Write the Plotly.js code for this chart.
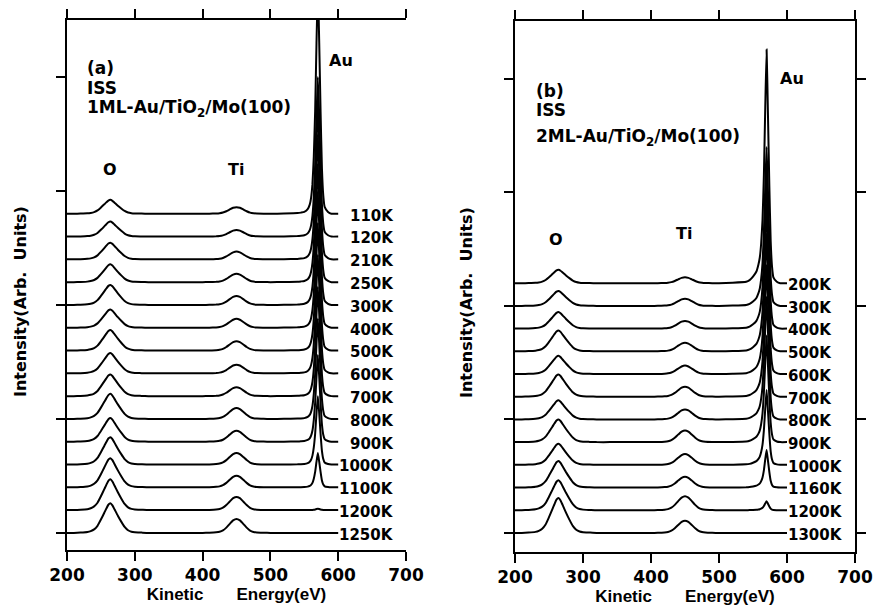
<!DOCTYPE html>
<html>
<head>
<meta charset="utf-8">
<script src="https://cdn.plot.ly/plotly-3.0.1.min.js"></script>
<style>html,body{margin:0;padding:0;background:#fff;}</style>
</head>
<body>
<div id="chart" style="width:875px;height:609px;"></div>
<script>
// Kinetic energy grid (eV) on which the peak profiles were read
const energy = [200,210,220,230,235,240,245,250,255,258,
  261,264,267,270,275,280,285,290,295,300,
  310,320,340,360,380,400,410,420,425,430,
  435,440,445,450,455,460,465,470,475,480,
  490,500,520,540,545,550,555,558,560,562,
  564,566,568,570,572,574,576,578,580,585,
  590,600];
// normalized peak shapes
const profO = [0,0,0.01,0.03,0.06,0.12,0.24,0.45,0.68,0.82,
  0.95,1.0,0.93,0.8,0.58,0.38,0.2,0.09,0.04,0.02,
  0.01,0,0,0,0,0,0,0,0,0,
  0,0,0,0,0,0,0,0,0,0,
  0,0,0,0,0,0,0,0,0,0,
  0,0,0,0,0,0,0,0,0,0,
  0,0];
const profTi = [0,0,0,0,0,0,0,0,0,0,
  0,0,0,0,0,0,0,0,0,0,
  0,0,0,0,0,0,0.01,0.04,0.08,0.18,
  0.38,0.65,0.9,1.0,0.9,0.65,0.38,0.17,0.07,0.03,
  0.01,0,0,0,0,0,0,0,0,0,
  0,0,0,0,0,0,0,0,0,0,
  0,0];
const profAuA = [0,0,0,0,0,0,0,0,0,0,
  0,0,0,0,0,0,0,0,0,0,
  0,0,0,0,0,0,0,0,0,0,
  0,0,0,0,0,0,0,0,0,0,
  0,0,0.001,0.003,0.005,0.008,0.02,0.04,0.07,0.13,
  0.25,0.45,0.75,1.0,0.75,0.45,0.2,0.08,0.03,0.008,
  0,0];
const profAuB = [0,0,0,0,0,0,0,0,0,0,
  0,0,0,0,0,0,0,0,0,0,
  0,0,0,0,0,0,0,0,0,0,
  0,0,0,0,0,0,0,0,0,0,
  0,0,0.002,0.006,0.013,0.028,0.05,0.08,0.11,0.17,
  0.27,0.46,0.75,1.0,0.72,0.42,0.18,0.07,0.025,0.006,
  0,0];

// Panel (a): 1ML-Au/TiO2/Mo(100), top to bottom
const tempsA = ['110K','120K','210K','250K','300K','400K','500K','600K','700K','800K','900K','1000K','1100K','1200K','1250K'];
const oA  = [0.61,0.66,0.73,0.78,0.88,0.80,0.90,0.89,0.95,1.10,1.04,1.20,1.28,1.35,1.30];
const tiA = [0.29,0.29,0.34,0.37,0.39,0.39,0.41,0.38,0.39,0.48,0.48,0.51,0.51,0.58,0.61];
const auA = [10,7.0,6.8,6.5,6.2,6.0,5.6,5.2,4.8,4.4,3.8,3.0,1.5,0.06,0];

// Panel (b): 2ML-Au/TiO2/Mo(100), top to bottom
const tempsB = ['200K','300K','400K','500K','600K','700K','800K','900K','1000K','1160K','1200K','1300K'];
const oB  = [0.59,0.66,0.73,0.92,0.80,0.98,0.84,1.00,0.93,1.17,1.32,1.54];
const tiB = [0.26,0.32,0.34,0.38,0.37,0.44,0.44,0.51,0.48,0.47,0.62,0.54];
const auB = [10.3,7.0,6.8,6.5,6.2,5.8,5.4,4.7,3.3,1.65,0.4,0];

const xTicks = [200,300,400,500,600,700];
const yTicks = [0,5,10,15,20];
const xTitle = 'Kinetic\u00a0\u00a0\u00a0\u00a0\u00a0\u00a0\u00a0Energy(eV)';
const yTitle = 'Intensity(Arb.\u00a0 Units)';

const W = 875, H = 609;
const px = v => v / W;
const py = v => 1 - v / H;

const traces = [];
function addPanel(temps, o, ti, au, profAu, xa, ya) {
  const n = temps.length;
  temps.forEach((t, i) => {
    const off = n - 1 - i;
    const y = energy.map((e, k) => off + o[i] * profO[k] + ti[i] * profTi[k] + au[i] * profAu[k]);
    traces.push({x: energy, y: y, type: 'scatter', mode: 'lines', name: t,
      xaxis: xa, yaxis: ya, showlegend: false, hoverinfo: 'skip',
      line: {color: '#000', width: 2, shape: 'spline', smoothing: 0.4}});
  });
}
addPanel(tempsA, oA, tiA, auA, profAuA, 'x', 'y');
addPanel(tempsB, oB, tiB, auB, profAuB, 'x2', 'y2');

const bold = (size, fam) => ({family: fam || 'DejaVu Sans', size: size, color: '#000', weight: 'bold'});

const annotations = [];
tempsA.forEach((t, i) => {
  annotations.push({xref: 'x', yref: 'y', x: 685, y: tempsA.length - 1 - i - 0.08, text: t,
    xanchor: 'right', yanchor: 'middle', showarrow: false, font: bold(15)});
});
tempsB.forEach((t, i) => {
  annotations.push({xref: 'x2', yref: 'y2', x: 600, y: tempsB.length - 1 - i - 0.08, text: t,
    xanchor: 'left', yanchor: 'middle', showarrow: false, font: bold(15), borderpad: 0});
});
const txt = (text, x, y, size, xanchor, fam) => annotations.push({xref: 'paper', yref: 'paper',
  x: px(x), y: py(y), text: text, xanchor: xanchor || 'left', yanchor: 'middle', showarrow: false,
  borderpad: 0, font: bold(size, fam)});
txt('(a)', 86, 68, 17);
txt('ISS', 86, 87.5, 17);
txt('1ML-Au/TiO<sub>2</sub>/Mo(100)', 86, 108, 17);
txt('(b)', 535, 91, 17);
txt('ISS', 535, 110, 17);
txt('2ML-Au/TiO<sub>2</sub>/Mo(100)', 535, 137, 17);
txt('O', 110, 169, 16, 'center');
txt('Ti', 236, 169, 16, 'center');
txt('Au', 341, 61, 16, 'center');
txt('O', 556, 240, 16, 'center');
txt('Ti', 684, 233, 16, 'center');
txt('Au', 792, 79, 16, 'center');
annotations.push({xref: 'paper', yref: 'paper', x: px(20), y: py(302), text: yTitle,
  textangle: -90, xanchor: 'center', yanchor: 'middle', showarrow: false, font: bold(16)});
annotations.push({xref: 'paper', yref: 'paper', x: px(467), y: py(303), text: yTitle,
  textangle: -90, xanchor: 'center', yanchor: 'middle', showarrow: false, font: bold(16)});

const xBase = {range: [200, 700], tickvals: xTicks, ticks: 'outside', ticklen: 9, tickwidth: 2,
  showline: true, linewidth: 2, linecolor: '#000', tickcolor: '#000', mirror: 'ticks',
  showgrid: false, zeroline: false, tickfont: bold(17), fixedrange: true,
  title: {text: xTitle, font: bold(17, 'Liberation Sans'), standoff: 4}};
const yBase = {tickvals: yTicks, ticks: 'outside', ticklen: 9, tickwidth: 2, showticklabels: false,
  showline: true, linewidth: 2, linecolor: '#000', tickcolor: '#000',
  showgrid: false, zeroline: false, fixedrange: true};

const layout = {
  width: W, height: H,
  margin: {l: 0, r: 0, t: 0, b: 0},
  paper_bgcolor: '#fff', plot_bgcolor: '#fff',
  showlegend: false,
  xaxis: Object.assign({}, xBase, {domain: [px(67), px(406)], anchor: 'y'}),
  yaxis: Object.assign({}, yBase, {domain: [py(550), py(20)], range: [-0.75, 22.5], anchor: 'x', mirror: false}),
  xaxis2: Object.assign({}, xBase, {domain: [px(515), px(855)], anchor: 'y2'}),
  yaxis2: Object.assign({}, yBase, {domain: [py(552), py(21)], range: [-0.84, 22.55], anchor: 'x2', mirror: 'ticks'}),
  annotations: annotations
};

Plotly.newPlot('chart', traces, layout, {staticPlot: true, displayModeBar: false});
</script>
</body>
</html>
